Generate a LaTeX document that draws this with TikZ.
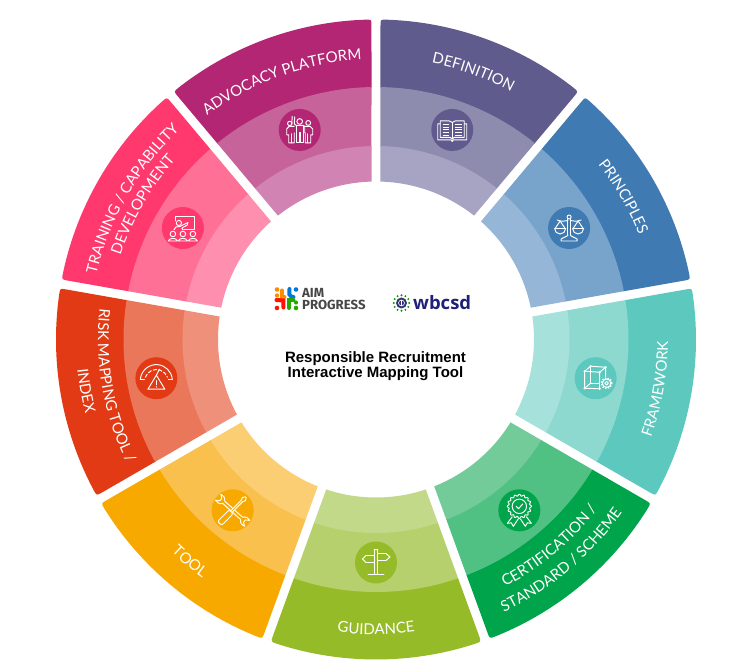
\documentclass[tikz,border=0pt]{standalone}
\usepackage{fontspec}
\setmainfont{Lato}
\newfontfamily\arialfont{Liberation Sans}
\newfontfamily\aimfont{Fira Sans}
\newfontfamily\wbfont{Open Sans}
\usetikzlibrary{decorations.text}
\newcommand{\lblfont}{\fontsize{15}{15}\selectfont\color{white}}
\def\gp{4.5}
\def\cor{6}
\newcommand{\flatband}[5]{%
  \pgfmathsetmacro\dI{asin(\gp/#3)}\pgfmathsetmacro\dO{asin(\gp/#4)}%
  \pgfmathsetmacro\Ai{#1+\dI}\pgfmathsetmacro\Bi{#2-\dI}%
  \pgfmathsetmacro\Ao{#1+\dO}\pgfmathsetmacro\Bo{#2-\dO}%
  \fill[#5] (\Ai:#3) -- (\Ao:#4) arc[start angle=\Ao,end angle=\Bo,radius=#4pt] -- (\Bi:#3) arc[start angle=\Bi,end angle=\Ai,radius=#3pt] -- cycle;%
}
\newcommand{\roundband}[5]{%
  \pgfmathsetmacro\dI{asin(\gp/#3)}\pgfmathsetmacro\dO{asin(\gp/#4)}%
  \pgfmathsetmacro\dS{asin(\gp/(#4-\cor))}\pgfmathsetmacro\eps{\cor*57.3/#4}%
  \pgfmathsetmacro\Ai{#1+\dI}\pgfmathsetmacro\Bi{#2-\dI}%
  \pgfmathsetmacro\Ao{#1+\dO}\pgfmathsetmacro\Bo{#2-\dO}%
  \pgfmathsetmacro\As{#1+\dS}\pgfmathsetmacro\Bs{#2-\dS}%
  \pgfmathsetmacro\Ae{\Ao+\eps}\pgfmathsetmacro\Be{\Bo-\eps}%
  \pgfmathsetmacro\Rs{#4-\cor}%
  \fill[#5] (\Ai:#3) -- (\As:\Rs) .. controls (\Ao:#4) .. (\Ae:#4)
    arc[start angle=\Ae,end angle=\Be,radius=#4pt]
    .. controls (\Bo:#4) .. (\Bs:\Rs) -- (\Bi:#3)
    arc[start angle=\Bi,end angle=\Ai,radius=#3pt] -- cycle;%
}
\newcommand{\segment}[5]{%
  \roundband{#1}{#2}{252}{320}{#3}%
  \flatband{#1}{#2}{193}{252.5}{#4}%
  \flatband{#1}{#2}{158}{193.5}{#5}%
}
\newcommand{\cwlabel}[3]{%
  \path[decorate,decoration={text along path,text align=center,text={|\lblfont|#3}}]
    (#1+42:#2) arc[start angle=#1+42,end angle=#1-42,radius=#2pt];%
}
\newcommand{\ccwlabel}[3]{%
  \path[decorate,decoration={text along path,text align=center,text={|\lblfont|#3}}]
    (#1-42:#2) arc[start angle=#1-42,end angle=#1+42,radius=#2pt];%
}
\tikzset{
  iconline/.style={draw=white,line width=0.95pt,line join=round,line cap=round},
  iconthick/.style={draw=white,line width=1.1pt,line cap=round},
}
\definecolor{cdef}{HTML}{5F5B8C}\definecolor{cdefm}{HTML}{8E8CAE}\definecolor{cdefl}{HTML}{A6A3C3}
\definecolor{cpri}{HTML}{3F7BB2}\definecolor{cprim}{HTML}{78A4CC}\definecolor{cpril}{HTML}{95B6D6}
\definecolor{cfra}{HTML}{5DC8BE}\definecolor{cfram}{HTML}{8DD9CF}\definecolor{cfral}{HTML}{A6E2DB}
\definecolor{ccer}{HTML}{00A44A}\definecolor{ccerm}{HTML}{50C083}\definecolor{ccerl}{HTML}{72CB98}
\definecolor{cgui}{HTML}{95BC28}\definecolor{cguim}{HTML}{B5D06C}\definecolor{cguil}{HTML}{C3D98A}
\definecolor{ctoo}{HTML}{F7A900}\definecolor{ctoom}{HTML}{F9C04E}\definecolor{ctool}{HTML}{FCCE74}
\definecolor{cris}{HTML}{E23A15}\definecolor{crism}{HTML}{EB775B}\definecolor{crisl}{HTML}{EF917A}
\definecolor{ctra}{HTML}{FF386E}\definecolor{ctram}{HTML}{FF7096}\definecolor{ctral}{HTML}{FF8FAE}
\definecolor{cadv}{HTML}{B22673}\definecolor{cadvm}{HTML}{C6639B}\definecolor{cadvl}{HTML}{D184B3}
\begin{document}
\begin{tikzpicture}[x=1pt,y=1pt]
\useasboundingbox (-376,-332.5) rectangle (364,339.5);
\segment{50}{90}{cdef}{cdefm}{cdefl}
\segment{10}{50}{cpri}{cprim}{cpril}
\segment{-30}{10}{cfra}{cfram}{cfral}
\segment{-70}{-30}{ccer}{ccerm}{ccerl}
\segment{-110}{-70}{cgui}{cguim}{cguil}
\segment{-150}{-110}{ctoo}{ctoom}{ctool}
\segment{170}{210}{cris}{crism}{crisl}
\segment{130}{170}{ctra}{ctram}{ctral}
\segment{90}{130}{cadv}{cadvm}{cadvl}
% labels
\cwlabel{70}{282}{DEFINITION}
\cwlabel{30}{283}{PRINCIPLES}
\ccwlabel{-10}{292}{FRAMEWORK}
\ccwlabel{-50}{279}{CERTIFICATION /}
\ccwlabel{-50}{301}{STANDARD / SCHEME}
\ccwlabel{-90}{295}{GUIDANCE}
\ccwlabel{-130}{295}{TOOL}
\ccwlabel{190}{278}{RISK MAPPING TOOL /}
\ccwlabel{190}{300}{INDEX}
\cwlabel{150}{287}{TRAINING / CAPABILITY}
\cwlabel{150}{269}{DEVELOPMENT}
\cwlabel{110}{280}{ADVOCACY PLATFORM}
% definition icon: book
\begin{scope}[shift={(70:223)}]
\fill[cdef] (0,0) circle (21);
\draw[iconline] (-12,-7.5) -- (-12,9) -- (-3,9) -- (0,7.5) -- (3,9) -- (12,9) -- (12,-7.5) -- (2,-7.5) -- (0,-9) -- (-2,-7.5) -- cycle;
\draw[iconline] (0,7.5) -- (0,-9);
\draw[iconline] (-12,6) -- (-14.5,6) -- (-14.5,-10) -- (-1,-10) -- (0,-11.5) -- (1,-10) -- (14.5,-10) -- (14.5,6) -- (12,6);
\foreach \yy in {5.5,2.8,0.1,-2.6,-5.3}{
  \draw[iconthick,line width=1pt,line cap=butt] (-9.5,\yy) -- (-3,\yy);
  \draw[iconthick,line width=1pt,line cap=butt] (3,\yy) -- (9.5,\yy);
}
\end{scope}
% principles icon: scales
\begin{scope}[shift={(30:223)}]
\fill[cpri] (0,0) circle (21);
\draw[iconline] (0,11) circle (2);
\draw[iconline] (-1.2,9) -- (-1.2,-7) (1.2,9) -- (1.2,-7);
\draw[iconline] (-12,8) .. controls (-7,6) and (-4,7) .. (-1.2,7.5) (1.2,7.5) .. controls (4,7) and (7,6) .. (12,8);
\draw[iconline] (-9,7) -- (-14,-0.5) (-9,7) -- (-4,-0.5) (9,7) -- (14,-0.5) (9,7) -- (4,-0.5);
\draw[iconline] (-14.5,-0.5) -- (-3.5,-0.5) arc[start angle=0,end angle=-180,radius=5.5] ;
\draw[iconline] (3.5,-0.5) -- (14.5,-0.5) arc[start angle=0,end angle=-180,radius=5.5];
\draw[iconline] (-1.2,-7) .. controls (-2,-9) and (-6,-9) .. (-8,-11) -- (-8,-13) -- (8,-13) -- (8,-11) .. controls (6,-9) and (2,-9) .. (1.2,-7);
\end{scope}
% framework icon: cube and gear
\begin{scope}[shift={(-10:223)}]
\fill[cfra] (0,0) circle (21);
\draw[iconline] (-11,7) -- (-11,-10) -- (4,-10.5) -- (4,6) -- cycle;
\draw[iconline] (-5,12) -- (10,11) -- (10,-1);
\draw[iconline] (-5,12) -- (-5,-5) -- (4.5,-5);
\draw[iconline] (-11,7) -- (-5,12) (4,6) -- (10,11) (-11,-10) -- (-5,-5);
\foreach \pp in {(-11,7),(-11,-10),(4,-10.5),(4,6),(-5,12),(10,11)}{\fill[white] \pp circle (1.3);}
\fill[cfra] (11,-5) circle (6.5);
\draw[iconline,line width=1.6pt,dash pattern=on 1.4pt off 1.4pt,line cap=butt] (11,-5) circle (5.2);
\draw[iconline] (11,-5) circle (4.2);
\draw[iconline] (11,-5) circle (1.8);
\end{scope}
% certification icon: rosette
\begin{scope}[shift={(-50:223)}]
\fill[ccer] (0,0) circle (21);
\draw[iconline,fill=ccer] (-6,-5) -- (-12,-13) -- (-8,-12.5) -- (-6,-16) -- (0,-7);
\draw[iconline,fill=ccer] (6,-5) -- (12,-13) -- (8,-12.5) -- (6,-16) -- (0,-7);
\end{scope}
\begin{scope}[shift={(-50:223)},yshift=4pt]
\fill[ccer] (0,0) circle (12.5);
\draw[iconline] plot[domain=0:360,samples=121,smooth] (\x:{11.2+0.9*cos(16*\x)});
\draw[iconline] (0,0) circle (7.2);
\draw[iconline,line width=1pt] (-3.2,0) -- (-0.8,-2.4) -- (3.4,2.4);
\end{scope}
% guidance icon: signpost
\begin{scope}[shift={(-90:223)}]
\fill[cgui] (0,0) circle (21);
\draw[iconline] (-1.8,13) -- (-1.8,-12) (1.8,13) -- (1.8,-12) (-1.8,13) -- (1.8,13);
\draw[iconline] (-8,-12) -- (8,-12);
\draw[iconline] (1.8,9) -- (10,9) -- (14,5.5) -- (10,2) -- (1.8,2);
\draw[iconline] (-1.8,7) -- (-10,7) -- (-13.5,3.5) -- (-10,0) -- (-1.8,0);
\end{scope}
% tool icon: wrench and screwdriver
\begin{scope}[shift={(-130:223)}]
\fill[ctoo] (0,0) circle (21);
\begin{scope}[rotate=-42]
\draw[iconline] (-12,1.5) .. controls (-14,4.5) and (-17,5) .. (-19.5,4) -- (-16,1.5) -- (-16,-1.5) -- (-19.5,-4) .. controls (-17,-5) and (-14,-4.5) .. (-12,-1.5) -- (12,-1.5) .. controls (14,-4.5) and (17,-5) .. (19.5,-4) -- (16,-1.5) -- (16,1.5) -- (19.5,4) .. controls (17,5) and (14,4.5) .. (12,1.5) -- cycle;
\end{scope}
\begin{scope}[rotate=45]
\draw[iconline,fill=ctoo] (-3,1) -- (13,1) -- (16,2.2) -- (18.5,0.6) -- (18.5,-0.6) -- (16,-2.2) -- (13,-1) -- (-3,-1) -- cycle;
\draw[iconline,fill=ctoo,rounded corners=2pt] (-18.5,-2.8) rectangle (-2,2.8);
\end{scope}
\end{scope}
% risk icon: gauge and warning
\begin{scope}[shift={(190:223)}]
\fill[cris] (0,0) circle (21);
\draw[iconline] (-16,-1) arc[start angle=175,end angle=5,radius=16];
\draw[iconline] (-16,-1) -- (-12,-1) (16,-1) -- (12,-1);
\draw[iconline,dash pattern=on 3.5pt off 2pt] (-11,1) arc[start angle=160,end angle=20,radius=11.7];
\draw[iconline] (0,3) -- (-8.5,-11) -- (8.5,-11) -- cycle;
\draw[iconline] (0,3) -- (3,9);
\draw[iconline,line width=1.1pt] (0,-2.5) -- (0,-6.5);
\fill[white] (0,-8.7) circle (0.7);
\end{scope}
% training icon: presenter
\begin{scope}[shift={(150:223)}]
\fill[ctra] (0,0) circle (21);
\draw[iconline] (-7,7) -- (-7,12) -- (12,12) -- (12,-1) -- (1,-1);
\draw[iconline] (-4,5) circle (2.6);
\draw[iconline] (-9,-2) -- (-7,1) -- (-3,1.5) -- (5,5.5) -- (4.5,3) -- (-1,0) -- (0,-2);
\foreach \xx in {-10,0,10}{
  \draw[iconline] (\xx,-6) circle (2.8);
  \draw[iconline] ({\xx-4.5},-13) .. controls ({\xx-4},-9.5) and ({\xx+4},-9.5) .. ({\xx+4.5},-13) -- ({\xx-4.5},-13);
}
\end{scope}
% advocacy icon: people
\begin{scope}[shift={(110:223)}]
\fill[cadv] (0,0) circle (21);
\draw[iconline] (0,8.5) circle (2.8);
\draw[iconline] (8.5,7) circle (2.4);
\draw[iconline] (-10,6.5) circle (2.2);
\draw[iconline] (-5,13) -- (-5.5,6) -- (-3.5,4.5) -- (3.5,4.5) -- (5,3.5) -- (5,-3);
\draw[iconline] (-3.5,4.5) -- (-3.5,-13) -- (-0.6,-13) -- (-0.6,-3) -- (0.6,-3) -- (0.6,-13) -- (3.5,-13) -- (3.5,4.5);
\draw[iconline] (4.5,3.5) -- (10.5,3.5) -- (13,1) -- (13,-5) -- (11,-5) -- (11,-13) -- (5.5,-13) -- (5.5,-3);
\draw[iconline] (-5.5,3.5) -- (-10.5,3.5) -- (-13,1) -- (-13,-5) -- (-11,-5) -- (-11,-13) -- (-5.5,-13) -- (-5.5,-3);
\draw[iconline] (-7.5,13.5) -- (-8,5);
\draw[iconline] (8,-4) -- (8,-13) (-8,-4) -- (-8,-13);
\end{scope}
% AIM Progress logo
\begin{scope}[shift={(-89.5,41)}]
\draw[line width=4pt,color=orange!90!yellow,line cap=round] (-4.5,8) -- (-4.5,1.5) -- (-2,1.5);
\fill[orange!90!yellow] (-9.5,9) circle (2.3);
\fill[orange!90!yellow] (-9.5,3) circle (2.2);
\draw[line width=4pt,color=blue!45!cyan!85!black,line cap=round] (3,9.5) -- (3,4) -- (5,1.5) -- (7,1.5);
\fill[blue!45!cyan!85!black] (9.5,9) circle (2.3);
\draw[line width=4pt,color=red!85!orange,line cap=round] (-10,-1.5) -- (-3,-2) -- (-3,-9);
\fill[red!85!orange] (-9.5,-9.5) circle (2.3);
\draw[line width=4pt,color=green!60!black!85!yellow,line cap=round] (2.5,-9.5) -- (2.5,-2) -- (7,-2);
\fill[green!60!black!85!yellow] (9.5,-4) circle (2.1);
\fill[green!60!black!85!yellow] (9.5,-9.5) circle (2.3);
\end{scope}
\node[anchor=base west,inner sep=0pt,text=black!72] (aimtop) at (-74,41.5) {\aimfont\fontsize{13.2}{13.2}\selectfont\bfseries AIM};
\node[anchor=base west,inner sep=0pt,text=black!72] (aimbottom) at (-74,29.5) {\aimfont\fontsize{13.2}{13.2}\selectfont\bfseries PROGRESS};
% WBCSD logo
\begin{scope}[shift={(25.5,36.5)}]
\foreach \aa in {0,30,...,330}{\fill[green!60!black] (\aa:7.8) circle (1.1);}
\fill[black!60!blue!60!gray] (0,0) circle (5.5);
\draw[white,line width=0.6pt] (0,0) circle (3);
\draw[white,line width=0.6pt] (0,3) -- (0,-3);
\end{scope}
\node[anchor=base west,inner sep=0pt,text=black!55!blue!75!gray] (wbcsd) at (37,30) {\wbfont\fontsize{18.5}{18.5}\selectfont\bfseries wbcsd};
% title
\node[align=center,inner sep=0pt,text=black] (title) at (-0.5,-26.5) {\arialfont\fontsize{15}{17.5}\selectfont\bfseries Responsible Recruitment\\ \arialfont\fontsize{15}{17.5}\selectfont\bfseries Interactive Mapping Tool};
\end{tikzpicture}
\end{document}
